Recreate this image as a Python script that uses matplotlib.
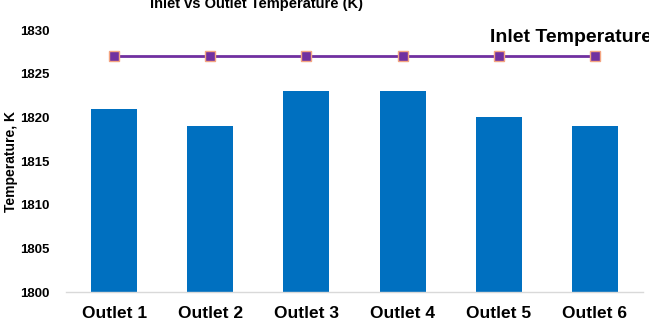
import matplotlib
matplotlib.use("Agg")
import matplotlib.pyplot as plt

plt.rcParams["font.family"] = ["Liberation Sans", "DejaVu Sans"]

outlets = ["Outlet 1", "Outlet 2", "Outlet 3", "Outlet 4", "Outlet 5", "Outlet 6"]
outlet_temps = [1821, 1819, 1823, 1823, 1820, 1819]
inlet_temps = [1827, 1827, 1827, 1827, 1827, 1827]
y_ticks = [1800, 1805, 1810, 1815, 1820, 1825, 1830]

fig = plt.figure(figsize=(6.49, 3.24), dpi=100)
ax = fig.add_axes([66 / 649, 32 / 324, 577 / 649, 262 / 324])

x = list(range(len(outlets)))
ax.bar(x, outlet_temps, width=0.48, color="#0070C0", zorder=2)
ax.plot(x, inlet_temps, color="#7030A0", linewidth=2, marker="s",
        markersize=7.5, markerfacecolor="#7030A0", markeredgecolor="#F4A582",
        markeredgewidth=1.0, zorder=3, clip_on=False)

ax.set_ylim(1800, 1830)
ax.set_xlim(-0.5, len(outlets) - 0.5)
ax.set_yticks(y_ticks)
ax.set_yticklabels([str(t) for t in y_ticks], fontsize=9.5, fontweight="bold")
ax.set_xticks(x)
ax.set_xticklabels(outlets, fontsize=12.5, fontweight="bold")
ax.tick_params(axis="both", length=0)
ax.tick_params(axis="y", pad=12)
ax.tick_params(axis="x", pad=10)

for side in ["top", "right", "left"]:
    ax.spines[side].set_visible(False)
ax.spines["bottom"].set_color("#D9D9D9")
ax.spines["bottom"].set_linewidth(1)

ax.set_ylabel("Temperature, K", fontsize=10, fontweight="bold")
ax.yaxis.set_label_coords(-0.084, 0.5)

fig.text(256 / 649, 1 - 4 / 324, "Inlet vs Outlet Temperature (K)",
         ha="center", va="center", fontsize=10.5, fontweight="bold")
fig.text(490 / 649, 1 - 38 / 324, "Inlet Temperature",
         ha="left", va="center", fontsize=14, fontweight="bold")

fig.savefig("out.png", dpi=100)
